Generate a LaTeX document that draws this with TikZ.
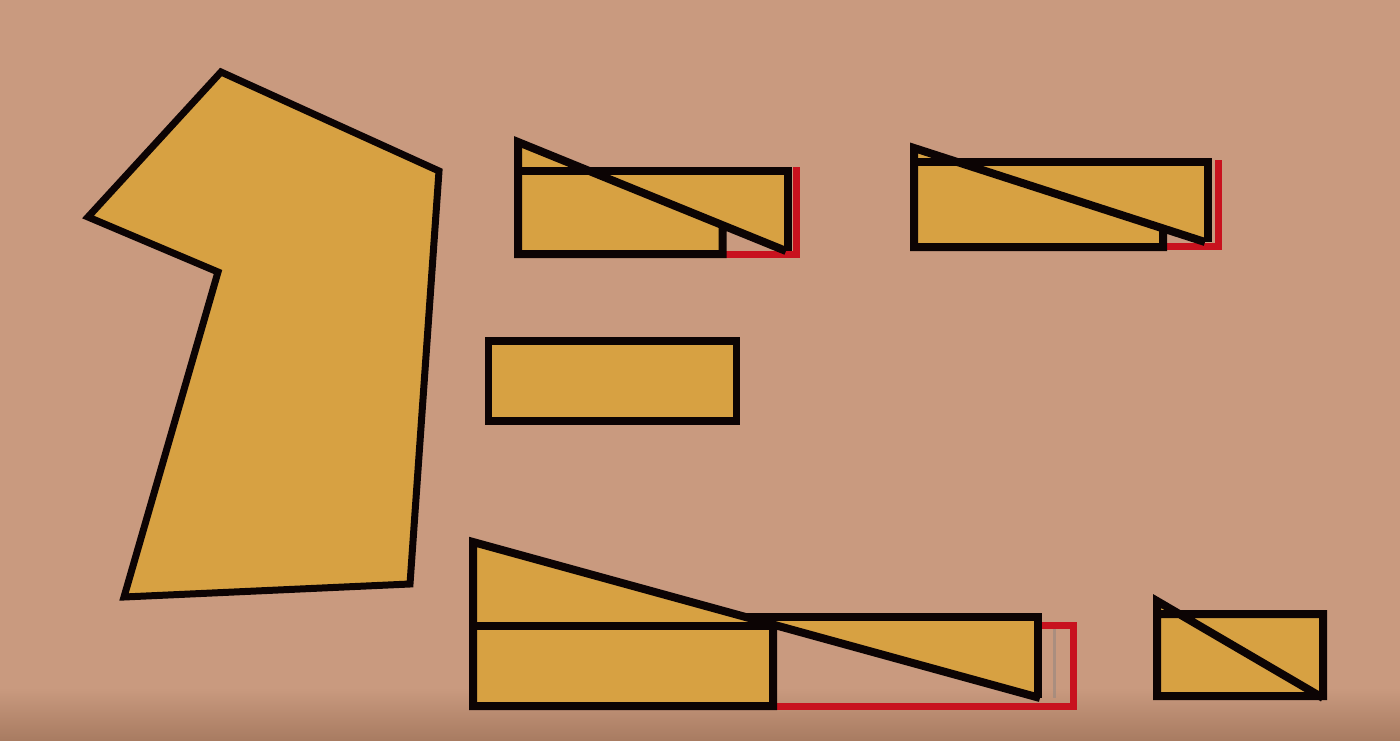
\documentclass[tikz,border=0pt]{standalone}
\usetikzlibrary{calc}
\definecolor{bg}{HTML}{C99A7F}
\definecolor{bgdark}{HTML}{A87B61}
\definecolor{gold}{HTML}{D7A142}
\definecolor{ink}{HTML}{0C0404}
\definecolor{redl}{HTML}{C8121E}
\tikzset{
  piece/.style={fill=gold, draw=none},
  edge/.style={draw=ink, line width=8pt, line join=miter, miter limit=12},
  redge/.style={draw=redl, line width=7pt, line join=miter},
}
\begin{document}
\begin{tikzpicture}[x=1pt,y=-1pt]
\useasboundingbox (0,0) rectangle (1400,741);
\fill[bg] (0,0) rectangle (1400,741);
\shade[top color=bg, bottom color=bgdark] (0,688) rectangle (1400,741);

% ---- big polygon ----
\filldraw[fill=gold, draw=ink, line width=7pt, line join=miter]
  (221,72) -- (439,171) -- (410,584) -- (124,597) -- (218,272) -- (88,217) -- cycle;

% ---- top-left group ----
\fill[gold] (518,142) -- (589.3,171) -- (788,171) -- (788,251) -- (786,251)
  -- (722.5,225.2) -- (722.5,254) -- (518,254) -- cycle;
\draw[redge] (722,254) -- (796,254) -- (796,167);
\draw[edge] (722.5,225.2) -- (722.5,254) -- (518,254) -- (518,142) -- (786,251);
\draw[edge] (514,171) -- (788,171) -- (788,251);

% ---- top-right group ----
\fill[gold] (914,148) -- (957.3,162) -- (1208,162) -- (1208,242) -- (1205,242)
  -- (1163,228.4) -- (1163,247) -- (914,247) -- cycle;
\draw[redge] (1163,246) -- (1218,246) -- (1218,160);
\draw[edge] (1163,228.4) -- (1163,247) -- (914,247) -- (914,148) -- (1205,242);
\draw[edge] (910,162) -- (1208,162) -- (1208,242);

% ---- middle rectangle ----
\filldraw[fill=gold, draw=ink, line width=7.5pt, line join=miter]
  (488.5,341) rectangle (736.5,421);

% ---- bottom group ----
\fill[gold] (473,542) -- (773,624.5) -- (773,706) -- (473,706) -- cycle;
\fill[gold] (745.6,617) -- (1038,617) -- (1038,697.4) -- cycle;
\draw[draw=gray!70!bg, line width=3pt, opacity=0.6] (1054,628) -- (1054,698);
\draw[redge] (1040,625) -- (1073,625) -- (1073,706) -- (775,706);
\draw[edge] (773,624.5) -- (773,706) -- (473,706) -- (473,542) -- (1040,698);
\draw[edge] (469,625.5) -- (773,625.5);
\draw[edge] (745.6,617) -- (1038,617) -- (1038,698);

% ---- bottom-right small group ----
\fill[gold] (1157,601) -- (1179,614) -- (1323,614) -- (1323,696) -- (1157,696) -- cycle;
\draw[draw=redl, line width=4pt] (1306,698) -- (1320,698);
\draw[edge] (1153,614) -- (1323,614) -- (1323,696) -- (1157,696) -- (1157,601) -- (1323,698);
\end{tikzpicture}
\end{document}
